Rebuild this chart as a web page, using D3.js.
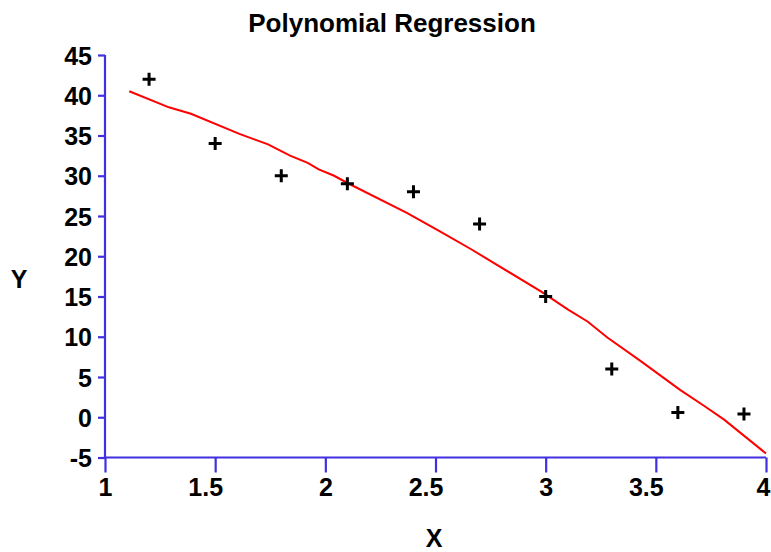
<!DOCTYPE html>
<html>
<head>
<meta charset="utf-8">
<script src="https://cdn.jsdelivr.net/npm/d3@7"></script>
<style>
  html, body { margin: 0; padding: 0; background: #fff; }
  svg { display: block; }
  text { font-family: Arial, "Liberation Sans", sans-serif; font-weight: bold; fill: #000; }
</style>
</head>
<body>
<script>
// ---- data ----
const pointX = [1.2, 1.5, 1.8, 2.1, 2.4, 2.7, 3.0, 3.3, 3.6, 3.9];
const pointY = [42, 34, 30, 29, 28, 24, 15, 6, 0.6, 0.4];

const fitX = [1.11, 1.29, 1.39, 1.61, 1.74, 1.84, 1.92, 1.97, 2.04, 2.10, 2.37, 2.52, 2.66, 2.98, 3.10, 3.19, 3.28, 3.43, 3.61, 3.72, 3.81, 4.0];
const fitY = [40.5, 38.5, 37.7, 35.2, 33.9, 32.5, 31.6, 30.8, 30.0, 29.1, 25.4, 23.1, 20.9, 15.6, 13.4, 11.9, 9.9, 7.0, 3.4, 1.4, -0.3, -4.5];

const xTicks = [1, 1.5, 2, 2.5, 3, 3.5, 4];
const xTickLabels = ["1", "1.5", "2", "2.5", "3", "3.5", "4"];
const yTicks = [-5, 0, 5, 10, 15, 20, 25, 30, 35, 40, 45];
const yTickLabels = ["-5", "0", "5", "10", "15", "20", "25", "30", "35", "40", "45"];

const title = "Polynomial Regression";
const xLabel = "X";
const yLabel = "Y";

// ---- chart ----
const W = 771, H = 552;
const mLeft = 105, mRight = 766, mTop = 55, mBottom = 457.5;
const axisColor = "#4030e0";
const font = "Arial, 'Liberation Sans', sans-serif";

const svg = d3.select("body").append("svg").attr("width", W).attr("height", H);

const x = d3.scaleLinear().domain([1, 4]).range([mLeft, mRight]);
const y = d3.scaleLinear().domain([-5, 45]).range([mBottom, mTop]);

// Y axis
const yAxis = svg.append("g")
  .attr("transform", `translate(${mLeft},0)`)
  .call(d3.axisLeft(y).tickValues(yTicks).tickFormat((d, i) => yTickLabels[i]).tickSize(7).tickPadding(6));
yAxis.select(".domain").attr("stroke", axisColor).attr("stroke-width", 2.2).attr("d", `M0,${mTop}V${mBottom}`);
yAxis.selectAll(".tick line").attr("stroke", axisColor).attr("stroke-width", 2.2);
yAxis.selectAll(".tick text").attr("font-size", 25).attr("font-family", font)
  .attr("font-weight", "bold").attr("fill", "#000").attr("dy", "0.36em");

// X axis
const xAxis = svg.append("g")
  .attr("transform", `translate(0,${mBottom})`)
  .call(d3.axisBottom(x).tickValues(xTicks).tickFormat((d, i) => xTickLabels[i]).tickSize(15).tickPadding(6));
xAxis.select(".domain").attr("stroke", axisColor).attr("stroke-width", 2.2).attr("d", `M${mLeft},0H${mRight}`);
xAxis.selectAll(".tick line").attr("stroke", axisColor).attr("stroke-width", 2.2);
const lastIdx = xTickLabels.length - 1;
xAxis.selectAll(".tick text").attr("font-size", 25).attr("font-family", font)
  .attr("font-weight", "bold").attr("fill", "#000")
  .attr("text-anchor", (d, i) => i === lastIdx ? "end" : "middle")
  .attr("dx", (d, i) => i === lastIdx ? 4 : (xTickLabels[i].includes(".") ? -10 : 0));

// Fitted curve
const fit = fitX.map((d, i) => [d, fitY[i]]);
svg.append("path")
  .datum(fit)
  .attr("fill", "none")
  .attr("stroke", "#ff0000")
  .attr("stroke-width", 2)
  .attr("d", d3.line().x(d => x(d[0])).y(d => y(d[1])));

// Data points (plus markers)
const pts = pointX.map((d, i) => [d, pointY[i]]);
svg.append("g").selectAll("path")
  .data(pts)
  .join("path")
  .attr("d", d => { const cx = x(d[0]), cy = y(d[1]), s = 6.5; return `M${cx - s},${cy}H${cx + s}M${cx},${cy - s}V${cy + s}`; })
  .attr("stroke", "#000")
  .attr("stroke-width", 3)
  .attr("fill", "none");

// Titles
svg.append("text").attr("x", 392).attr("y", 32).attr("text-anchor", "middle").attr("font-size", 26).text(title);
svg.append("text").attr("x", 434).attr("y", 547).attr("text-anchor", "middle").attr("font-size", 25).text(xLabel);
svg.append("text").attr("x", 19).attr("y", 288).attr("text-anchor", "middle").attr("font-size", 25).text(yLabel);
</script>
</body>
</html>
